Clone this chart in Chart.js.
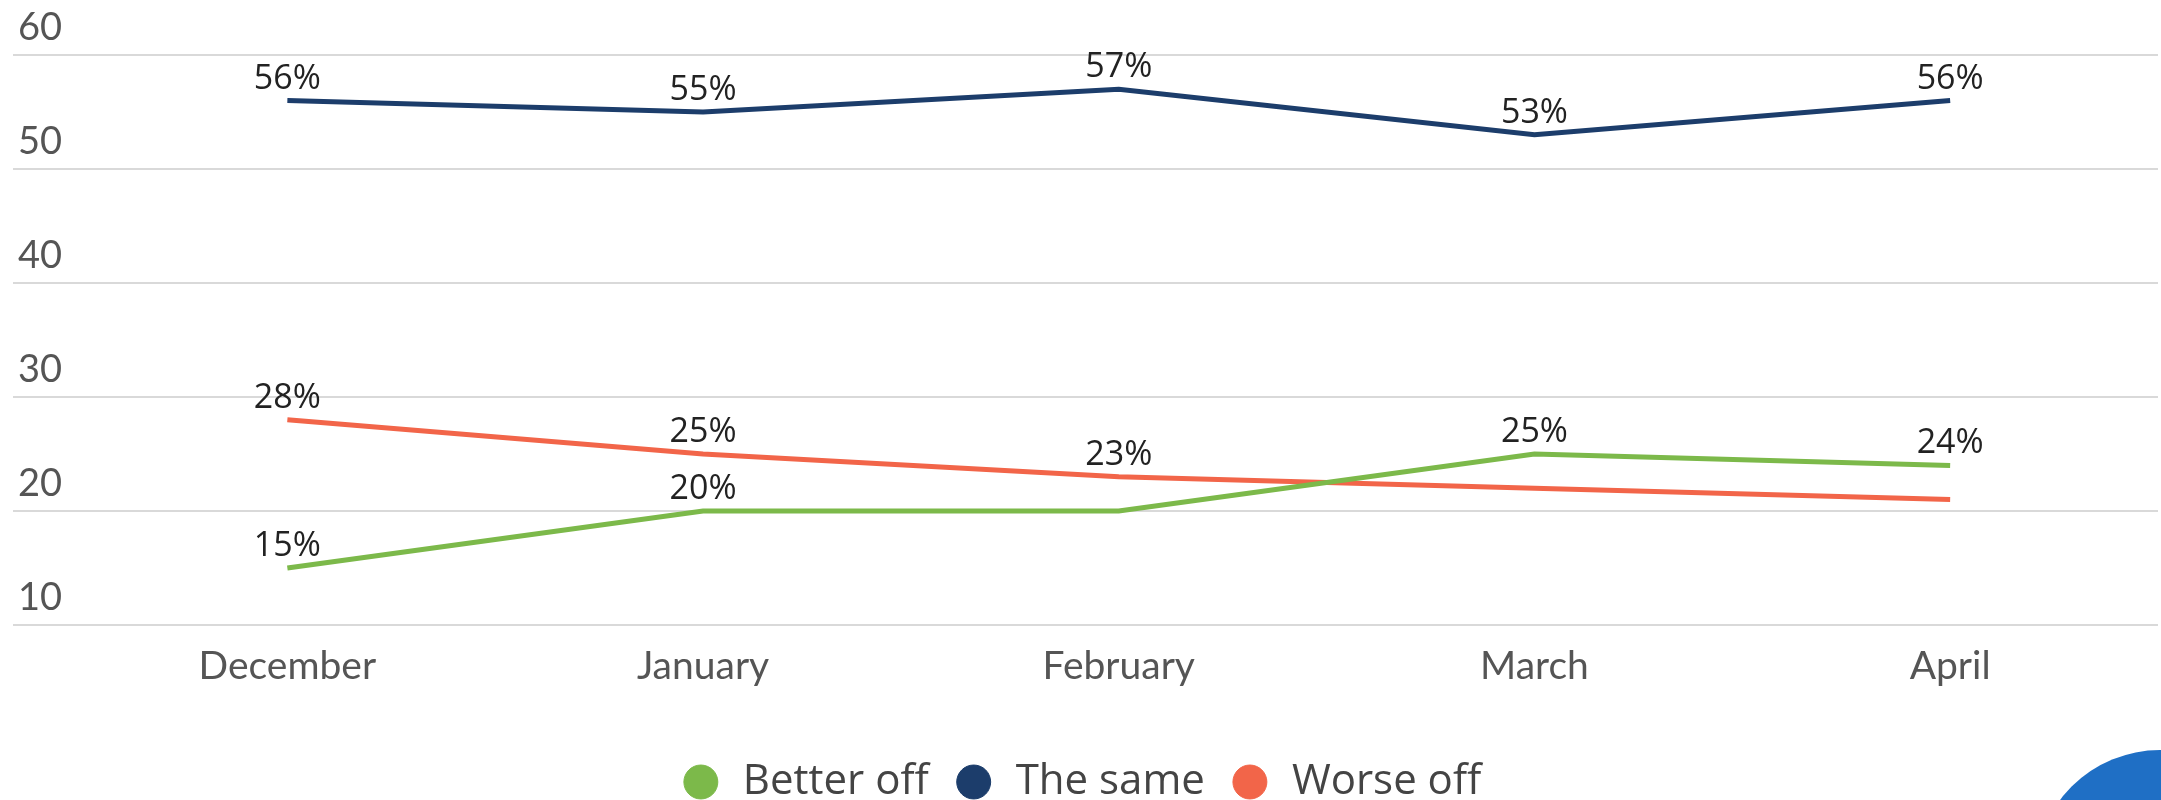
<!DOCTYPE html>
<html>
<head>
<meta charset="utf-8">
<script src="https://cdn.jsdelivr.net/npm/chart.js@4.4.0/dist/chart.umd.min.js"></script>
<style>
  html, body { margin: 0; padding: 0; background: #fff; overflow: hidden; }
  #wrap { position: relative; width: 2161px; height: 800px; }
  /* round blue button cut off in the corner of the screenshot */
  #bubble { position: absolute; left: 2035px; top: 750px; width: 250px; height: 250px; border-radius: 50%; background: #1f6fc5; }
</style>
</head>
<body>
<div id="wrap">
  <canvas id="myChart" width="2161" height="800"></canvas>
  <div id="bubble"></div>
</div>
<script>
let months = ['December', 'January', 'February', 'March', 'April'];
let betterOff = [15, 20, 20, 25, 24];
let theSame = [56, 55, 57, 53, 56];
let worseOff = [28, 25, 23, 22, 21];
// which points get a % label on the picture
let betterShown = [true, true, false, true, true];
let sameShown = [true, true, true, true, true];
let worseShown = [true, true, true, false, false];
let yTicks = [10, 20, 30, 40, 50, 60];

function toPoints(arr) {
    return arr.map(function (v, i) { return {x: i, y: v}; });
}

// draws "56%" etc above the points
var pointLabels = {
    id: 'pointLabels',
    afterDatasetsDraw: function (chart) {
        let ctx = chart.ctx;
        ctx.save();
        ctx.font = '34px "Open Sans"';
        ctx.fillStyle = '#222';
        ctx.textAlign = 'center';
        ctx.textBaseline = 'alphabetic';
        chart.data.datasets.forEach(function (ds, d) {
            let meta = chart.getDatasetMeta(d);
            meta.data.forEach(function (pt, i) {
                if (!ds.shown[i]) return;
                ctx.fillText(ds.data[i].y + '%', pt.x, pt.y - 12);
            });
        });
        ctx.restore();
    }
};

var canvas = document.getElementById('myChart');
var ctx = canvas.getContext('2d');
var myChart = new Chart(ctx, {
    type: 'line',
    data: {
        datasets: [{
            label: 'Better off',
            data: toPoints(betterOff),
            shown: betterShown,
            borderColor: '#7cb94a',
            backgroundColor: '#7cb94a'
        }, {
            label: 'The same',
            data: toPoints(theSame),
            shown: sameShown,
            borderColor: '#1c3d6b',
            backgroundColor: '#1c3d6b'
        }, {
            label: 'Worse off',
            data: toPoints(worseOff),
            shown: worseShown,
            borderColor: '#f26549',
            backgroundColor: '#f26549'
        }]
    },
    options: {
        responsive: false,
        animation: false,
        layout: {padding: {left: 3, right: 3, top: 55, bottom: -13}},
        elements: {
            line: {borderWidth: 5, tension: 0, fill: false},
            point: {radius: 0, hoverRadius: 0}
        },
        plugins: {
            tooltip: {enabled: false},
            legend: {
                position: 'bottom',
                labels: {
                    usePointStyle: true,
                    boxWidth: 42,
                    boxHeight: 24,
                    padding: 24,
                    color: '#444',
                    font: {family: '"Open Sans"', size: 42}
                }
            }
        },
        scales: {
            x: {
                type: 'linear',
                min: -0.66,
                max: 4.5,
                grid: {display: false},
                border: {display: false},
                afterBuildTicks: function (s) {
                    s.ticks = months.map(function (m, i) { return {value: i}; });
                },
                afterFit: function (s) { s.height = 112; },
                ticks: {
                    padding: 10,
                    maxRotation: 0,
                    autoSkip: false,
                    color: '#555',
                    font: {family: 'Lato', size: 39},
                    callback: function (v) { return months[v]; }
                }
            },
            y: {
                min: 10,
                max: 60,
                border: {display: false},
                grid: {color: '#d9d9d9', lineWidth: 2, drawTicks: false},
                afterBuildTicks: function (s) {
                    s.ticks = yTicks.map(function (v) { return {value: v}; });
                },
                ticks: {
                    mirror: true,
                    padding: 5,
                    labelOffset: -27,
                    color: '#555',
                    font: {family: 'Lato', size: 38}
                }
            }
        }
    },
    plugins: [pointLabels]
});
</script>
</body>
</html>
